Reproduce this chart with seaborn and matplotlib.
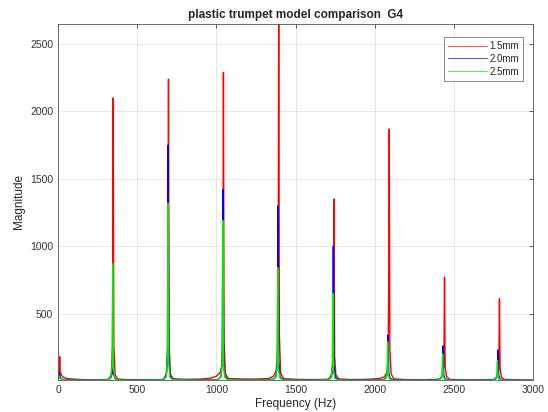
import pandas as pd
import seaborn as sns
import matplotlib.pyplot as plt

# spectrum points (Hz, magnitude)
FREQ_15 = [0, 6, 10, 14, 20, 30, 50, 80, 150, 250, 318, 336, 344, 348, 352, 360, 378,
           450, 550, 650, 667, 685, 693, 697, 701, 709, 727, 800, 900, 960, 1000, 1025,
           1034, 1040, 1044, 1048, 1056, 1074, 1150, 1250, 1330, 1360, 1375, 1384, 1389,
           1393, 1397, 1405, 1423, 1500, 1600, 1700, 1712, 1730, 1738, 1742, 1746, 1754,
           1772, 1850, 1950, 2030, 2060, 2075, 2083, 2088, 2091, 2095, 2103, 2121, 2200,
           2300, 2400, 2410, 2428, 2436, 2440, 2444, 2452, 2470, 2550, 2650, 2750, 2757,
           2775, 2783, 2787, 2791, 2799, 2817, 2900, 3000]
MAG_15 = [20, 60, 180, 70, 45, 30, 20, 15, 10, 8, 12, 45, 260, 2100, 260, 45, 14,
          9, 8, 9, 14, 55, 280, 2240, 280, 50, 15, 12, 14, 20, 35, 65,
          120, 320, 2290, 300, 55, 18, 15, 14, 18, 35, 70, 150, 360,
          2750, 350, 60, 18, 12, 10, 12, 18, 55, 190, 1350, 180, 45,
          15, 10, 12, 18, 30, 60, 130, 720, 1870, 230, 50, 15, 10,
          9, 12, 15, 40, 110, 770, 110, 35, 12, 8, 9, 10, 14,
          35, 90, 610, 90, 30, 12, 8, 6]

FREQ_20 = [0, 5, 9, 13, 20, 35, 60, 150, 250, 316, 334, 342, 346, 350, 358, 376,
           450, 550, 665, 683, 691, 695, 699, 707, 725, 800, 900, 1000, 1011, 1029,
           1037, 1041, 1045, 1053, 1071, 1150, 1250, 1359, 1377, 1385, 1389, 1393,
           1401, 1419, 1500, 1600, 1708, 1726, 1734, 1738, 1742, 1750, 1768, 1850,
           1950, 2054, 2072, 2080, 2084, 2088, 2096, 2114, 2200, 2300, 2401, 2419,
           2427, 2431, 2435, 2443, 2461, 2550, 2650, 2748, 2766, 2774, 2778, 2782,
           2790, 2808, 2900, 3000]
MAG_20 = [10, 25, 60, 30, 15, 10, 8, 6, 6, 10, 25, 60, 300, 55, 20, 10,
          7, 6, 10, 40, 210, 1750, 200, 35, 12, 9, 8, 9, 12, 35,
          170, 1420, 160, 35, 12, 9, 8, 12, 35, 160, 1300, 150,
          30, 10, 8, 7, 10, 30, 130, 1000, 120, 28, 10, 7,
          7, 9, 25, 60, 340, 55, 20, 8, 6, 6, 8, 22,
          50, 260, 45, 18, 7, 5, 6, 8, 20, 45, 230, 40,
          15, 7, 5, 4]

FREQ_25 = [0, 5, 9, 13, 20, 35, 60, 150, 250, 315, 333, 341, 345, 349, 357, 375,
           450, 550, 664, 682, 690, 694, 698, 706, 724, 800, 900, 1000, 1010, 1028,
           1036, 1040, 1044, 1052, 1070, 1150, 1250, 1357, 1375, 1383, 1387, 1391,
           1399, 1417, 1500, 1600, 1705, 1723, 1731, 1735, 1739, 1747, 1765, 1850,
           1950, 2051, 2069, 2077, 2081, 2085, 2093, 2111, 2200, 2300, 2398, 2416,
           2424, 2428, 2432, 2440, 2458, 2550, 2650, 2744, 2762, 2770, 2774, 2778,
           2786, 2804, 2900, 3000]
MAG_25 = [8, 18, 35, 20, 12, 8, 6, 5, 5, 8, 28, 110, 870, 100, 25, 8,
          5, 5, 8, 30, 160, 1320, 150, 28, 9, 7, 6, 7, 10, 30,
          140, 1190, 130, 28, 10, 7, 6, 9, 28, 110, 840, 100,
          25, 8, 6, 5, 8, 25, 90, 650, 80, 20, 8, 5,
          5, 7, 20, 50, 290, 45, 15, 6, 5, 5, 6, 18,
          40, 200, 35, 14, 6, 4, 5, 6, 15, 30, 150, 28,
          12, 6, 4, 3]

SERIES = ['1.5mm', '2.0mm', '2.5mm']
COLORS = ['#ff0000', '#0000ff', '#00ee00']

df = pd.concat([
    pd.DataFrame({'freq': FREQ_15, 'mag': MAG_15, 'model': SERIES[0]}),
    pd.DataFrame({'freq': FREQ_20, 'mag': MAG_20, 'model': SERIES[1]}),
    pd.DataFrame({'freq': FREQ_25, 'mag': MAG_25, 'model': SERIES[2]}),
], ignore_index=True)

sns.set_style('white')
plt.rcParams['font.family'] = ['Liberation Sans', 'DejaVu Sans']

fig = plt.figure(figsize=(5.48, 4.12), dpi=100)
ax = fig.add_axes([0.106, 0.078, 0.867, 0.864])
sns.lineplot(data=df, x='freq', y='mag', hue='model', hue_order=SERIES,
             palette=COLORS, estimator=None, sort=False, linewidth=1.0, ax=ax)

ax.set_xlim(0, 3000)
ax.set_ylim(8, 2650)
ax.set_xticks(range(0, 3001, 500))
ax.set_yticks(range(500, 2501, 500))
ax.grid(True, color='#e3e3e3', linewidth=0.6)
ax.tick_params(direction='in', length=3, width=0.6, colors='#404040',
               labelsize=7.5, top=True, right=True, labelcolor='#333333')
for s in ax.spines.values():
    s.set_color('#555555')
    s.set_linewidth(0.6)
ax.set_xlabel('Frequency (Hz)', fontsize=8.5, color='#262626', labelpad=2)
ax.set_ylabel('Magnitude', fontsize=8.5, color='#262626', labelpad=4)
ax.set_title('plastic trumpet model comparison  G4', fontsize=8.5,
             fontweight='bold', pad=4)

leg = ax.legend(loc='upper right', bbox_to_anchor=(0.979, 0.963), fontsize=7,
                frameon=True, fancybox=False, handlelength=4.0, borderpad=0.4,
                labelspacing=0.3, handletextpad=0.3, borderaxespad=0)
leg.get_frame().set_edgecolor('#555555')
leg.get_frame().set_linewidth(0.6)
for line in leg.get_lines():
    line.set_linewidth(0.6)
    line.set_alpha(0.8)

fig.savefig('out.png', dpi=100)
